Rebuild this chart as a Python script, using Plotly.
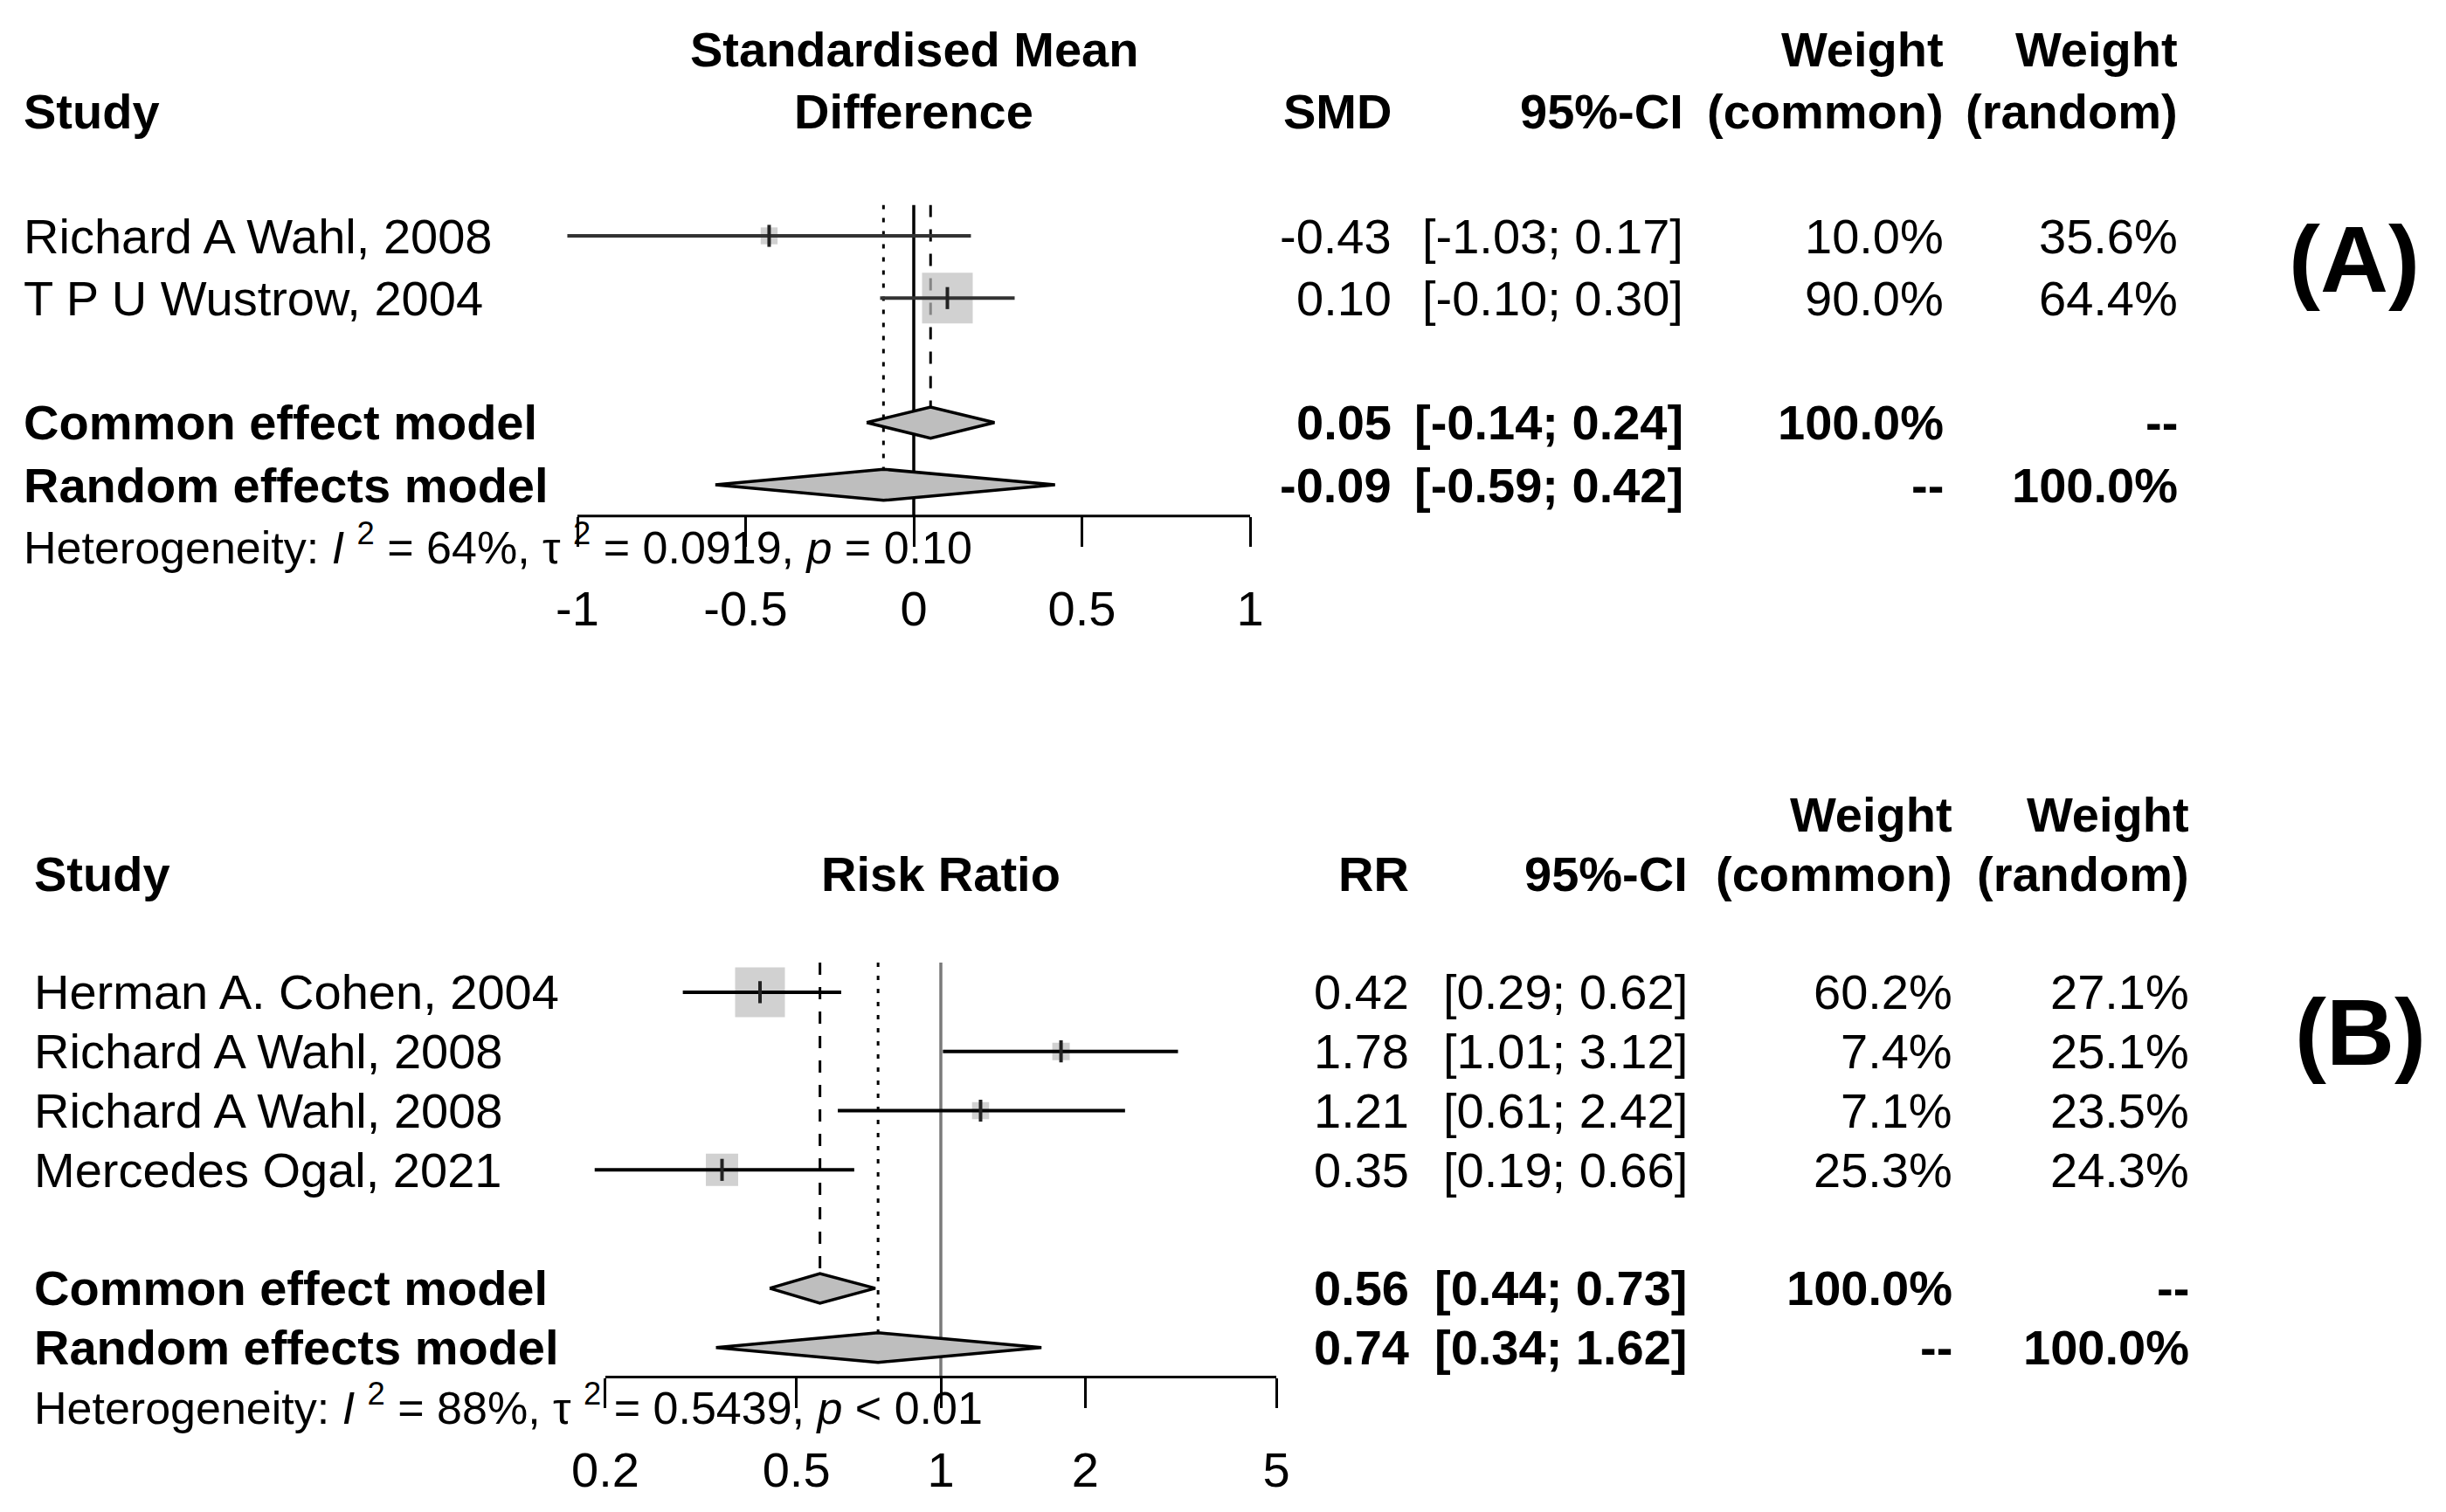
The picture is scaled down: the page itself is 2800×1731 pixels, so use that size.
import numpy as np
import plotly.graph_objects as go

W, H = 2800, 1731
FONT = "Liberation Sans, Arial, sans-serif"
FS = 56
HET_FS = 52

# ---------------- Panel A data (SMD) ----------------
a_studies = ["Richard A Wahl, 2008", "T P U Wustrow, 2004"]
a_est = [-0.43, 0.10]
a_lo = [-1.03, -0.10]
a_hi = [0.17, 0.30]
a_w_common = [10.0, 90.0]
a_w_random = [35.6, 64.4]
a_common = [0.05, -0.14, 0.24]     # est, lo, hi
a_random = [-0.09, -0.59, 0.42]
a_tickvals = [-1, -0.5, 0, 0.5, 1]
a_ticktext = ["-1", "-0.5", "0", "0.5", "1"]
a_het = "Heterogeneity: <i>I</i> <sup>2</sup> = 64%, τ <sup>2</sup> = 0.0919, <i>p</i> = 0.10"

# ---------------- Panel B data (RR) ----------------
b_studies = ["Herman A. Cohen, 2004", "Richard A Wahl, 2008",
             "Richard A Wahl, 2008", "Mercedes Ogal, 2021"]
b_est = [0.42, 1.78, 1.21, 0.35]
b_lo = [0.29, 1.01, 0.61, 0.19]
b_hi = [0.62, 3.12, 2.42, 0.66]
b_w_common = [60.2, 7.4, 7.1, 25.3]
b_w_random = [27.1, 25.1, 23.5, 24.3]
b_common = [0.56, 0.44, 0.73]
b_random = [0.74, 0.34, 1.62]
b_tickvals = [0.2, 0.5, 1, 2, 5]
b_ticktext = ["0.2", "0.5", "1", "2", "5"]
b_het = "Heterogeneity: <i>I</i> <sup>2</sup> = 88%, τ <sup>2</sup> = 0.5439, <i>p</i> &lt; 0.01"

fig = go.Figure()
annotations = []
shapes = []


def txt(xpx, ypaper, text, anchor="left", size=FS, bold=False):
    if bold:
        text = "<b>" + text + "</b>"
    annotations.append(dict(
        x=xpx / W, y=ypaper, xref="paper", yref="paper", text=text,
        xanchor=anchor, yanchor="middle", showarrow=False,
        font=dict(family=FONT, size=size, color="black")))


def panel(idx, studies, est, lo, hi, wc, wr, common, random, tickvals, ticktext,
          het, log, x0px, ppu, xrange, top_px, sp, left_px, col_px,
          title_lines, eff_label, smax, ci_color, null_color):
    n = len(studies)
    nrows = n + 3
    rows = list(range(1, n + 1))
    r_common = n + 2
    r_random = n + 3
    xa = "xaxis" if idx == 1 else "xaxis%d" % idx
    ya = "yaxis" if idx == 1 else "yaxis%d" % idx
    xr = "x" if idx == 1 else "x%d" % idx
    yr = "y" if idx == 1 else "y%d" % idx
    bottom_px = top_px + nrows * sp

    def ypap(r):
        return 1 - (top_px + (r - 0.5) * sp) / H

    hd = 0.25  # diamond half height (rows)
    null = 1 if log else 0
    fig.add_trace(go.Scatter(x=[null, null], y=[0.5, nrows + 0.5], mode="lines",
                             line=dict(color=null_color, width=3.5),
                             xaxis=xr, yaxis=yr, hoverinfo="skip", showlegend=False))
    fig.add_trace(go.Scatter(x=[common[0], common[0]], y=[0.5, r_common - hd], mode="lines",
                             line=dict(color="black", width=3, dash="14px,14px"),
                             xaxis=xr, yaxis=yr, hoverinfo="skip", showlegend=False))
    fig.add_trace(go.Scatter(x=[random[0], random[0]], y=[0.5, r_random - hd], mode="lines",
                             line=dict(color="black", width=3, dash="5px,10px"),
                             xaxis=xr, yaxis=yr, hoverinfo="skip", showlegend=False))
    # squares
    wmax = max(wc)
    sizes = [smax * np.sqrt(w / wmax) for w in wc]
    fig.add_trace(go.Scatter(x=est, y=rows, mode="markers",
                             marker=dict(symbol="square", size=sizes, color="#BEBEBE",
                                         line=dict(width=0)),
                             xaxis=xr, yaxis=yr, hoverinfo="skip", showlegend=False))
    # CI lines
    for i in range(n):
        fig.add_trace(go.Scatter(x=[lo[i], hi[i]], y=[rows[i], rows[i]], mode="lines",
                                 line=dict(color=ci_color, width=4),
                                 xaxis=xr, yaxis=yr, hoverinfo="skip", showlegend=False))
    # estimate tick
    fig.add_trace(go.Scatter(x=est, y=rows, mode="markers",
                             marker=dict(symbol="line-ns", size=18, color="#222",
                                         line=dict(width=4, color="#222")),
                             xaxis=xr, yaxis=yr, hoverinfo="skip", showlegend=False))
    # diamonds
    for (e, l, h), r in ((common, r_common), (random, r_random)):
        fig.add_trace(go.Scatter(x=[l, e, h, e, l], y=[r, r - hd, r, r + hd, r],
                                 mode="lines", fill="toself", fillcolor="#BEBEBE",
                                 line=dict(color="black", width=3.5),
                                 xaxis=xr, yaxis=yr, hoverinfo="skip", showlegend=False))
    # axes
    lo_r, hi_r = xrange
    fig.layout[xa] = dict(
        domain=[(x0px + lo_r * ppu) / W, (x0px + hi_r * ppu) / W],
        range=list(xrange), type="log" if log else "linear",
        anchor=yr, showgrid=False, zeroline=False, showline=False,
        tickvals=tickvals, ticktext=ticktext, ticks="outside", ticklen=34,
        tickwidth=3, tickcolor="black",
        tickfont=dict(family=FONT, size=FS, color="black"), ticklabelstandoff=23,
        fixedrange=True)
    fig.layout[ya] = dict(
        domain=[1 - bottom_px / H, 1 - top_px / H], range=[nrows + 0.5, 0.5],
        anchor=xr, visible=False, fixedrange=True)
    # axis line
    shapes.append(dict(type="line", xref=xr, yref="paper",
                       x0=tickvals[0], x1=tickvals[-1],
                       y0=1 - bottom_px / H, y1=1 - bottom_px / H,
                       line=dict(color="black", width=3)))

    # ---- text ----
    cx = x0px
    if len(title_lines) == 2:
        txt(cx, ypap(-2), title_lines[0], "center", bold=True)
        txt(cx, ypap(-1), title_lines[1], "center", bold=True)
    else:
        txt(cx, ypap(-1), title_lines[0], "center", bold=True)
    txt(left_px, ypap(-1), "Study", "left", bold=True)
    c1, c2, c3, c4 = col_px
    txt(c1, ypap(-1), eff_label, "right", bold=True)
    txt(c2, ypap(-1), "95%-CI", "right", bold=True)
    txt(c3, ypap(-2), "Weight", "right", bold=True)
    txt(c3, ypap(-1), "(common)", "right", bold=True)
    txt(c4, ypap(-2), "Weight", "right", bold=True)
    txt(c4, ypap(-1), "(random)", "right", bold=True)
    for i in range(n):
        r = rows[i]
        txt(left_px, ypap(r), studies[i], "left")
        txt(c1, ypap(r), "%.2f" % est[i], "right")
        txt(c2, ypap(r), "[%.2f; %.2f]" % (lo[i], hi[i]), "right")
        txt(c3, ypap(r), "%.1f%%" % wc[i], "right")
        txt(c4, ypap(r), "%.1f%%" % wr[i], "right")
    txt(left_px, ypap(r_common), "Common effect model", "left", bold=True)
    txt(c1, ypap(r_common), "%.2f" % common[0], "right", bold=True)
    txt(c2, ypap(r_common), "[%.2f; %.2f]" % (common[1], common[2]), "right", bold=True)
    txt(c3, ypap(r_common), "%.1f%%" % sum(wc), "right", bold=True)
    txt(c4, ypap(r_common), "--", "right", bold=True)
    txt(left_px, ypap(r_random), "Random effects model", "left", bold=True)
    txt(c1, ypap(r_random), "%.2f" % random[0], "right", bold=True)
    txt(c2, ypap(r_random), "[%.2f; %.2f]" % (random[1], random[2]), "right", bold=True)
    txt(c3, ypap(r_random), "--", "right", bold=True)
    txt(c4, ypap(r_random), "%.1f%%" % sum(wr), "right", bold=True)
    txt(left_px, ypap(nrows + 1) + 3 / H, het, "left", size=HET_FS)


panel(1, a_studies, a_est, a_lo, a_hi, a_w_common, a_w_random, a_common, a_random,
      a_tickvals, a_ticktext, a_het, False, 1046, 385, (-1.3, 1.3), 234.4, 71.25,
      25, (1595, 1929, 2227, 2495), ["Standardised Mean", "Difference"], "SMD", 58,
      "#333333", "black")

panel(2, b_studies, b_est, b_lo, b_hi, b_w_common, b_w_random, b_common, b_random,
      b_tickvals, b_ticktext, b_het, True, 1077, 549.4, (-0.9, 0.9), 1102, 67.8,
      37, (1615, 1934, 2237, 2508), ["Risk Ratio"], "RR", 57,
      "black", "#7a7a7a")

# panel labels
annotations.append(dict(x=2695 / W, y=1 - 296 / H, xref="paper", yref="paper",
                        text="<b>(A)</b>", showarrow=False, xanchor="center", yanchor="middle",
                        font=dict(family=FONT, size=108, color="black")))
annotations.append(dict(x=2702 / W, y=1 - 1181 / H, xref="paper", yref="paper",
                        text="<b>(B)</b>", showarrow=False, xanchor="center", yanchor="middle",
                        font=dict(family=FONT, size=108, color="black")))

fig.update_layout(width=W, height=H, margin=dict(l=0, r=0, t=0, b=0),
                  paper_bgcolor="white", plot_bgcolor="white",
                  annotations=annotations, shapes=shapes, showlegend=False,
                  font=dict(family=FONT, size=FS, color="black"))

fig.write_html("out.html", config={"displayModeBar": False},
               post_script="document.body.style.margin='0';document.body.style.overflow='hidden';")
